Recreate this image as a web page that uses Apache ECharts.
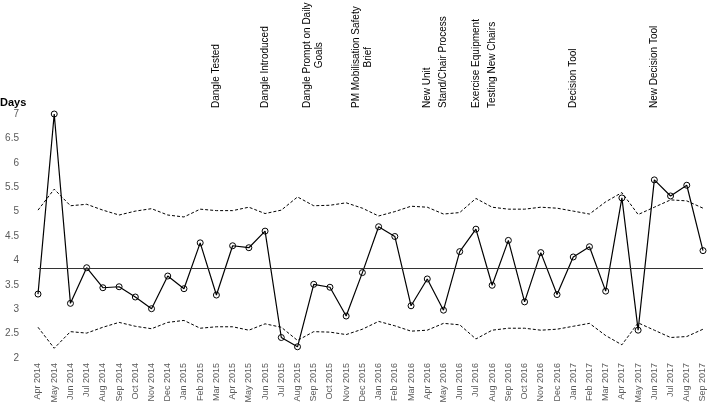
<!DOCTYPE html>
<html>
<head>
<meta charset="utf-8">
<script src="https://cdn.jsdelivr.net/npm/echarts@6/dist/echarts.min.js"></script>
<style>
  html, body { margin: 0; padding: 0; background: #fff; }
  #chart { width: 708px; height: 408px; }
</style>
</head>
<body>
<div id="chart"></div>
<script>
// ---- data ----
const months = [
  'Apr 2014', 'May 2014', 'Jun 2014', 'Jul 2014', 'Aug 2014', 'Sep 2014', 'Oct 2014', 'Nov 2014', 'Dec 2014',
  'Jan 2015', 'Feb 2015', 'Mar 2015', 'Apr 2015', 'May 2015', 'Jun 2015', 'Jul 2015', 'Aug 2015', 'Sep 2015',
  'Oct 2015', 'Nov 2015', 'Dec 2015', 'Jan 2016', 'Feb 2016', 'Mar 2016', 'Apr 2016', 'May 2016', 'Jun 2016',
  'Jul 2016', 'Aug 2016', 'Sep 2016', 'Oct 2016', 'Nov 2016', 'Dec 2016', 'Jan 2017', 'Feb 2017', 'Mar 2017',
  'Apr 2017', 'May 2017', 'Jun 2017', 'Jul 2017', 'Aug 2017', 'Sep 2017'
];

const days = [
  3.31, 7.0, 3.12, 3.85, 3.44, 3.46, 3.25, 3.01, 3.68,
  3.42, 4.36, 3.29, 4.30, 4.26, 4.60, 2.42, 2.23, 3.51,
  3.45, 2.86, 3.75, 4.69, 4.49, 3.07, 3.62, 2.98, 4.18,
  4.64, 3.49, 4.41, 3.15, 4.16, 3.30, 4.07, 4.28, 3.37,
  5.28, 2.57, 5.65, 5.32, 5.54, 4.20
];

const upperLimit = [
  5.03, 5.46, 5.12, 5.15, 5.03, 4.93, 5.01, 5.06, 4.93,
  4.89, 5.05, 5.02, 5.02, 5.09, 4.96, 5.03, 5.30, 5.12,
  5.13, 5.18, 5.07, 4.91, 5.00, 5.11, 5.09, 4.95, 4.98,
  5.27, 5.09, 5.05, 5.05, 5.09, 5.07, 5.01, 4.95, 5.20,
  5.39, 4.94, 5.09, 5.24, 5.22, 5.07
];

const lowerLimit = [
  2.63, 2.20, 2.54, 2.51, 2.63, 2.73, 2.65, 2.60, 2.73,
  2.77, 2.61, 2.64, 2.64, 2.57, 2.70, 2.63, 2.36, 2.54,
  2.53, 2.48, 2.59, 2.75, 2.66, 2.55, 2.57, 2.71, 2.68,
  2.39, 2.57, 2.61, 2.61, 2.57, 2.59, 2.65, 2.71, 2.46,
  2.27, 2.72, 2.57, 2.42, 2.44, 2.59
];

const centreLine = 3.83;

const annotations = [
  { month: 'Mar 2015', lines: ['Dangle Tested'] },
  { month: 'Jun 2015', lines: ['Dangle Introduced'] },
  { month: 'Sep 2015', lines: ['Dangle Prompt on Daily', 'Goals'] },
  { month: 'Dec 2015', lines: ['PM Mobilisation Safety', 'Brief'] },
  { month: 'Apr 2016', lines: ['New Unit'] },
  { month: 'May 2016', lines: ['Stand/Chair Process'] },
  { month: 'Jul 2016', lines: ['Exercise Equipment'] },
  { month: 'Aug 2016', lines: ['Testing New Chairs'] },
  { month: 'Jan 2017', lines: ['Decision Tool'] },
  { month: 'Jun 2017', lines: ['New Decision Tool'] }
];

// ---- chart ----
const FONT = '"Liberation Sans", Arial, sans-serif';
const GRID_TOP = 114;
const chart = echarts.init(document.getElementById('chart'));

chart.setOption({
  animation: false,
  title: {
    text: 'Days',
    left: 0,
    top: 97,
    padding: 0,
    textStyle: { fontSize: 11, fontWeight: 'bold', color: '#000', fontFamily: FONT }
  },
  grid: { left: 38, right: 5, top: GRID_TOP, bottom: 50 },
  xAxis: {
    type: 'category',
    data: months,
    boundaryGap: false,
    axisLine: { show: false },
    axisTick: { show: false },
    axisLabel: {
      rotate: 90,
      interval: 0,
      margin: 5,
      fontSize: 9,
      color: '#595959',
      fontFamily: FONT
    },
    splitLine: { show: false }
  },
  yAxis: {
    type: 'value',
    min: 2,
    max: 7,
    interval: 0.5,
    axisLine: { show: false },
    axisTick: { show: false },
    splitLine: { show: false },
    axisLabel: { margin: 19, fontSize: 10, color: '#595959', fontFamily: FONT }
  },
  series: [
    {
      name: 'Upper limit',
      type: 'line',
      data: upperLimit,
      symbol: 'none',
      lineStyle: { color: '#000', width: 1, type: [3, 2] },
      z: 2
    },
    {
      name: 'Lower limit',
      type: 'line',
      data: lowerLimit,
      symbol: 'none',
      lineStyle: { color: '#000', width: 1, type: [3, 2] },
      z: 2
    },
    {
      name: 'Days',
      type: 'line',
      data: days,
      symbol: 'circle',
      symbolSize: 6,
      showAllSymbol: true,
      itemStyle: { color: 'rgba(255,255,255,0)', borderColor: '#000', borderWidth: 1 },
      lineStyle: { color: '#000', width: 1.2 },
      z: 3,
      markLine: {
        silent: true,
        symbol: 'none',
        label: { show: false },
        lineStyle: { color: '#333', width: 1.2, type: 'solid' },
        data: [{ yAxis: centreLine }]
      }
    }
  ]
});

// ---- rotated annotations above the plot ----
const measure = document.createElement('canvas').getContext('2d');
measure.font = '10px ' + FONT;

const graphics = annotations.map((a) => {
  const x = chart.convertToPixel({ xAxisIndex: 0 }, a.month);
  const maxW = Math.max(...a.lines.map((l) => measure.measureText(l).width));
  return {
    type: 'text',
    x: x,
    y: GRID_TOP - 6 - maxW / 2,
    rotation: Math.PI / 2,
    silent: true,
    style: {
      text: a.lines.join('\n'),
      font: '10px ' + FONT,
      fill: '#000',
      align: 'center',
      verticalAlign: 'middle',
      lineHeight: 12
    }
  };
});

chart.setOption({ graphic: graphics });
</script>
</body>
</html>
